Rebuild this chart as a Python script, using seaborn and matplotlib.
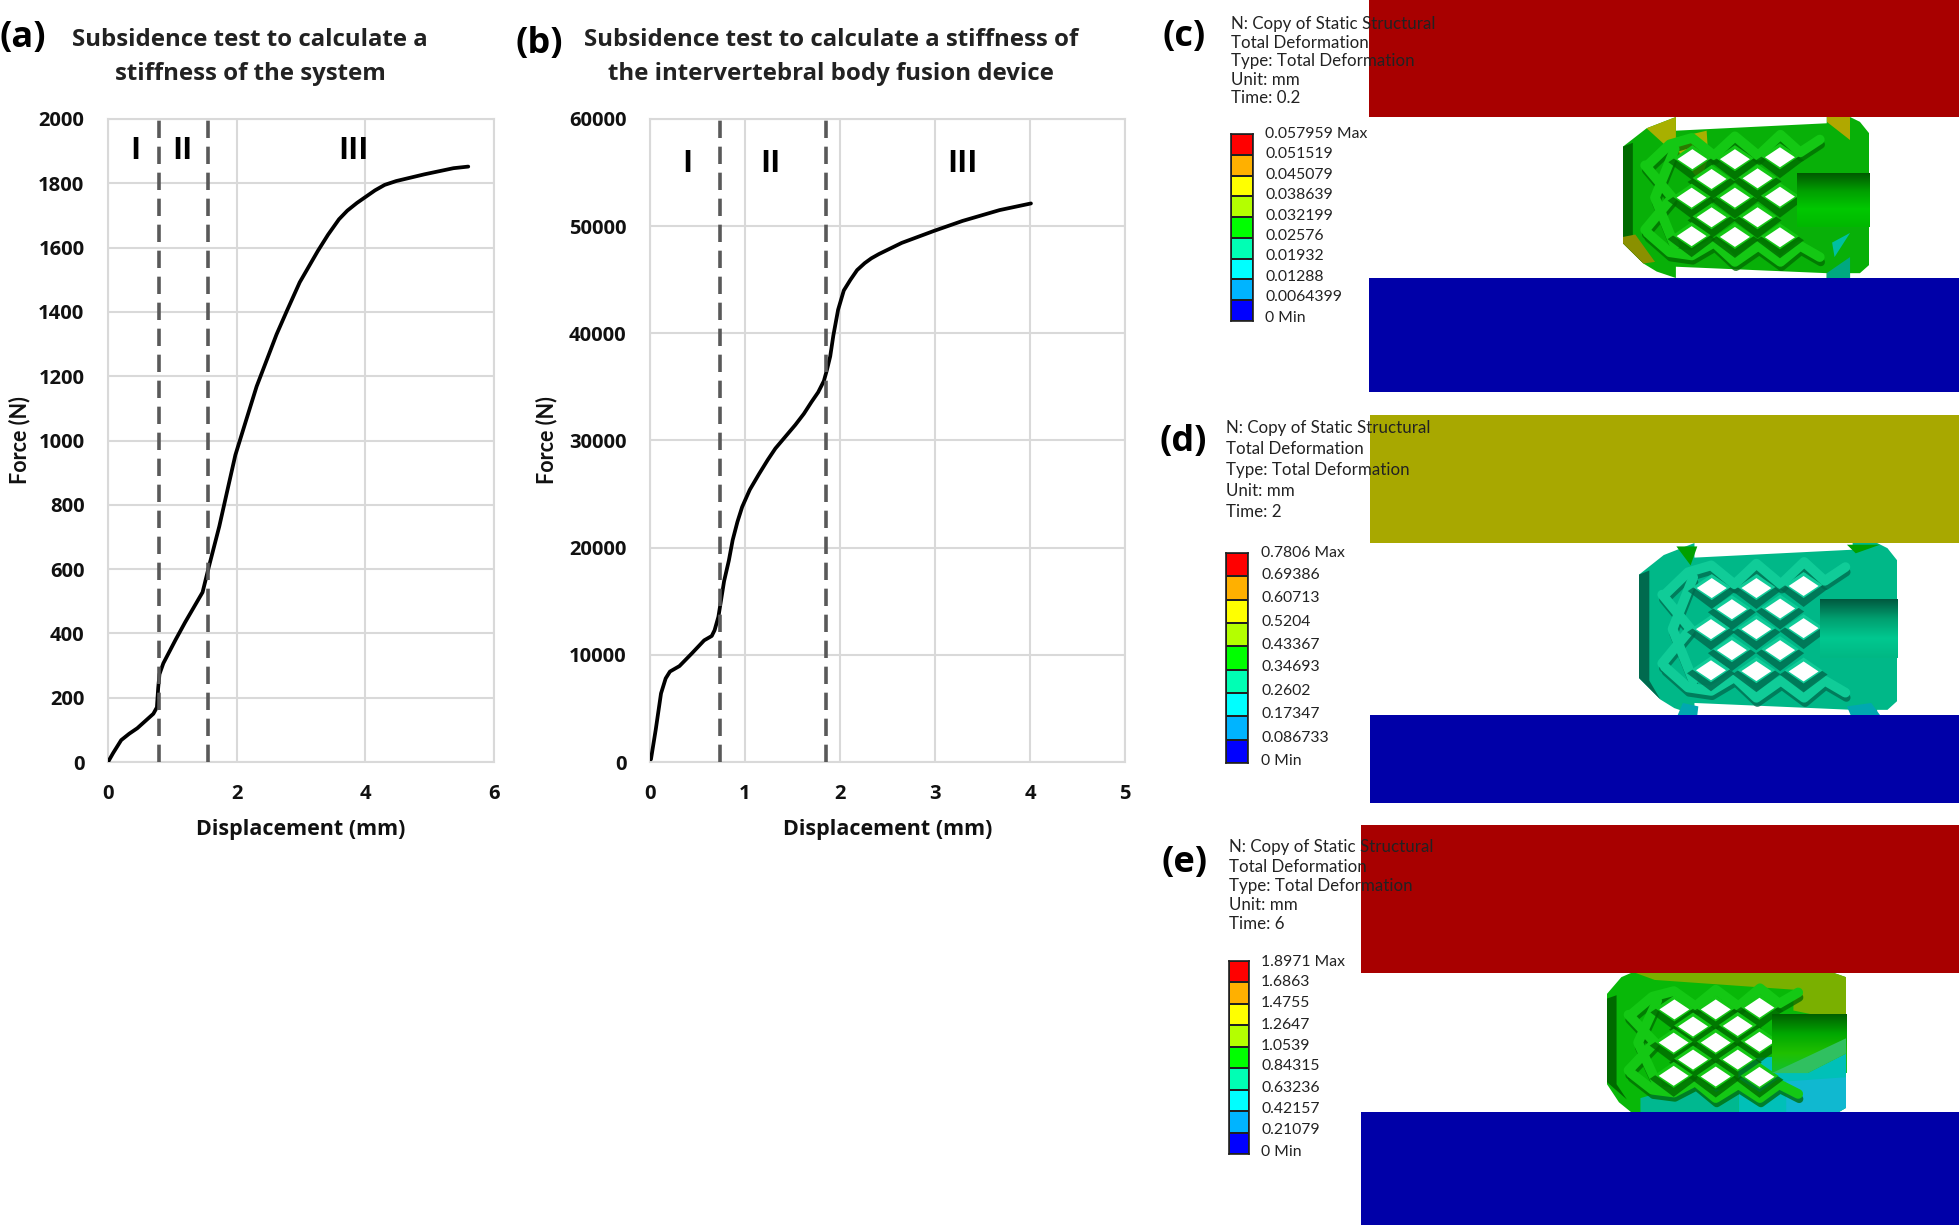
import numpy as np
import pandas as pd
import matplotlib
matplotlib.use("Agg")
import matplotlib.pyplot as plt
from matplotlib.colors import ListedColormap, LinearSegmentedColormap
from matplotlib.patches import Polygon, Rectangle
import seaborn as sns

sns.set_theme(style="whitegrid")
plt.rcParams["font.family"] = ["Open Sans", "DejaVu Sans"]

W, H = 1959, 1226

# Chart data
disp_a = [0, 0.08, 0.205, 0.33, 0.455, 0.705, 0.76, 0.78, 0.8, 0.86, 1.05, 1.2, 1.47, 1.565, 1.73, 1.85, 1.98, 2.15,
          2.31, 2.62, 2.78, 2.98, 3.26, 3.42, 3.59, 3.72, 3.87, 4.15, 4.3, 4.48, 4.92, 5.37, 5.6]
force_a = [0, 28, 68, 88, 105, 150, 170, 230, 273, 307, 380, 435, 528, 605, 733, 840, 955, 1065,
           1168, 1330, 1403, 1492, 1589, 1640, 1688, 1715, 1739, 1778, 1795, 1807, 1828, 1847, 1852]
disp_b = [0.01, 0.06, 0.116, 0.165, 0.21, 0.31, 0.44, 0.57, 0.65, 0.68, 0.72, 0.78, 0.83, 0.87, 0.92, 0.97, 1.05, 1.146,
          1.24, 1.32, 1.53, 1.62, 1.7, 1.77, 1.83, 1.86, 1.897, 1.93, 1.98, 2.04, 2.11, 2.18, 2.26, 2.33, 2.41, 2.65,
          2.99, 3.29, 3.68, 4.01]
force_b = [250, 3000, 6400, 7800, 8440, 8950, 10130, 11350, 11760, 12300, 13550, 16880, 18800, 20700, 22400, 23800,
           25400, 26850, 28200, 29260, 31460, 32500, 33600, 34500, 35550, 36500, 37850, 39800, 42200, 44000, 45000,
           45900, 46550, 47000, 47400, 48440, 49560, 50490, 51500, 52120]
bounds_a = [0.79, 1.56]
bounds_b = [0.735, 1.854]
stages = ["I", "II", "III"]
stage_x_a = [0.43, 1.15, 3.81]
stage_x_b = [0.39, 1.27, 3.29]
yticks_a = [0, 200, 400, 600, 800, 1000, 1200, 1400, 1600, 1800, 2000]
yticks_b = [0, 10000, 20000, 30000, 40000, 50000, 60000]
xticks_a = [0, 2, 4, 6]
xticks_b = [0, 1, 2, 3, 4, 5]
title_a = "Subsidence test to calculate a\nstiffness of the system"
title_b = "Subsidence test to calculate a stiffness of\nthe intervertebral body fusion device"

# Simulation legends
legend_colors = ["#FF0000", "#FFB000", "#FFFF00", "#B4FF00", "#00FF00",
                 "#00FFB4", "#00FFFF", "#00B4FF", "#0000FF"]
labels_c = ["0.057959 Max", "0.051519", "0.045079", "0.038639", "0.032199",
            "0.02576", "0.01932", "0.01288", "0.0064399", "0 Min"]
labels_d = ["0.7806 Max", "0.69386", "0.60713", "0.5204", "0.43367",
            "0.34693", "0.2602", "0.17347", "0.086733", "0 Min"]
labels_e = ["1.8971 Max", "1.6863", "1.4755", "1.2647", "1.0539",
            "0.84315", "0.63236", "0.42157", "0.21079", "0 Min"]
header = ["N: Copy of Static Structural", "Total Deformation", "Type: Total Deformation", "Unit: mm"]

# Device outline and lattice holes, as fractions of the device box
outline = [(0, .184), (.096, .07), (.215, 0), (.215, .085), (.828, .039), (.828, 0), (.923, 0),
           (.963, .03), (1, .1), (1, .92), (.963, .97), (.923, .97), (.923, 1), (.828, 1),
           (.828, .97), (.215, .93), (.215, 1), (.137, .96), (.083, .91), (0, .785)]
outline_e = [(0, .15), (.06, .03), (.1, 0), (.95, 0), (1, .03), (1, .97), (.97, 1), (.1, 1), (.05, .93), (0, .8)]
holes = [(.282, .262), (.455, .262), (.638, .25), (.36, .385), (.547, .381), (.279, .501), (.455, .501),
         (.638, .495), (.36, .623), (.547, .623), (.279, .74), (.455, .745), (.638, .747)]
zig_top = [(.1, .3), (.19, .17), (.28, .13), (.37, .24), (.455, .12), (.55, .24), (.64, .11), (.72, .22), (.8, .14)]
zig_bot = [(.1, .72), (.19, .84), (.28, .86), (.37, .78), (.455, .9), (.55, .8), (.64, .9), (.72, .8), (.8, .87)]
x_mark = [[(.09, .3), (.2, .5), (.09, .7)], [(.21, .2), (.13, .5), (.21, .8)]]

patches_c = [([(.096, .07), (.215, 0), (.215, .13), (.34, .085), (.347, .257), (.313, .4), (.245, .267), (.178, .184)], "#A8B000"),
             ([(.828, .03), (.828, 0), (.923, 0), (.923, .14)], "#B0A800"),
             ([(0, .745), (.05, .73), (.13, .9), (.083, .91), (0, .785)], "#8A9000"),
             ([(.828, .97), (.923, .87), (.923, 1), (.828, 1)], "#00A880"),
             ([(.85, .78), (.923, .72), (.86, .87)], "#00C0A0")]
patches_d = [([(.145, .02), (.226, .02), (.2, .13)], "#00A000"),
             ([(.806, .01), (.934, .01), (.84, .06)], "#00A000"),
             ([(.17, .93), (.23, .95), (.226, 1), (.15, 1)], "#00A8B0"),
             ([(.806, .95), (.9, .93), (.934, 1), (.82, 1)], "#00A8B0")]
patches_e = [([(.12, 0), (.95, 0), (1, .03), (1, .3), (.95, .33), (.78, .27), (.78, .12), (.2, .05)], "#7AB000"),
             ([(.14, 1), (.14, .9), (.3, .82), (.55, .85), (.55, 1)], "#00B890"),
             ([(.55, 1), (.55, .62), (.72, .6), (1, .6), (1, .97), (.97, 1)], "#00C0B8"),
             ([(.75, 1), (.75, .78), (1, .75), (1, .97), (.97, 1)], "#10B8D0")]
over_c = []
over_d = []
over_e = [([(.84, .72), (1, .58), (1, .72)], "#00C0B8"),
          ([(.69, .72), (.84, .6), (1, .47), (1, .58), (.84, .72)], "#30C060")]

fig = plt.figure(figsize=(W / 100, H / 100), dpi=100)


def px_axes(x0, y0, x1, y1):
    return fig.add_axes([x0 / W, 1 - y1 / H, (x1 - x0) / W, (y1 - y0) / H])


bg = fig.add_axes([0, 0, 1, 1])
bg.set_xlim(0, W)
bg.set_ylim(H, 0)
bg.axis("off")


def draw_chart(box, xs, ys, bounds, stage_x, stage_y, xticks, yticks, ylim, ylab_x):
    ax = px_axes(*box)
    df = pd.DataFrame({"disp": xs, "force": ys})
    sns.lineplot(data=df, x="disp", y="force", color="black", linewidth=2.7,
                 sort=False, estimator=None, ax=ax, zorder=3)
    for b in bounds:
        ax.axvline(b, color="#595959", linewidth=2.6, dashes=(4.8, 2.4), zorder=4)
    for name, sx in zip(stages, stage_x):
        ax.text(sx, stage_y, name, ha="center", va="center", fontsize=22, fontweight="bold", color="black")
    ax.set_xlim(xticks[0], xticks[-1])
    ax.set_ylim(0, ylim)
    ax.set_xticks(xticks)
    ax.set_yticks(yticks)
    ax.grid(True, color="#D9D9D9", linewidth=1.5)
    for s in ax.spines.values():
        s.set_color("#D9D9D9")
        s.set_linewidth(1.5)
    ax.tick_params(axis="y", length=0, labelsize=14.5, labelcolor="#111111", pad=17)
    ax.tick_params(axis="x", length=0, labelsize=14.5, labelcolor="#111111", pad=16)
    for t in ax.get_xticklabels() + ax.get_yticklabels():
        t.set_fontweight("bold")
    ax.set_xlabel("Displacement (mm)", fontsize=15.5, fontweight="bold", color="#111111")
    ax.set_ylabel("Force (N)", fontsize=15.5, fontweight="bold", color="#111111", family="Lato")
    ax.xaxis.set_label_coords(0.5, -0.088)
    ax.yaxis.set_label_coords(ylab_x, 0.5)
    ax.patch.set_alpha(0)
    return ax


def draw_legend(box, labels, label_x, label_ys):
    ax = px_axes(*box)
    vals = np.arange(len(legend_colors)).reshape(-1, 1)
    sns.heatmap(vals, cmap=ListedColormap(legend_colors), cbar=False, linewidths=1.2,
                linecolor="#202020", xticklabels=False, yticklabels=False, ax=ax)
    for s in ax.spines.values():
        s.set_visible(True)
        s.set_color("#202020")
        s.set_linewidth(1.2)
    for lab, ly in zip(labels, label_ys):
        bg.text(label_x, ly, lab, fontsize=11.3, family="Lato", ha="left", va="center", color="#222222")


def draw_header(x, ys, lines):
    for line, y in zip(lines, ys):
        bg.text(x, y, line, fontsize=12.2, family="Lato", ha="left", va="center", color="#222222", zorder=8)


def draw_device(box, shape, main, dark, light, extra, bore, bore_cols, over):
    x0, y0, x1, y1 = box
    w, h = x1 - x0, y1 - y0

    def to_px(pts):
        return [(x0 + u * w, y0 + v * h) for u, v in pts]

    bg.add_patch(Polygon(to_px(shape), closed=True, fc=main, ec="none", zorder=2))
    bg.add_patch(Polygon(to_px([(0, .184), (.04, .16), (.04, .8), (.083, .91), (0, .785)]),
                         closed=True, fc=dark, ec="none", zorder=2.1))
    for pts, col in extra:
        bg.add_patch(Polygon(to_px(pts), closed=True, fc=col, ec="none", zorder=2.2))
    for line in [zig_top, zig_bot] + x_mark:
        p = to_px(line)
        bg.plot(*zip(*[(a + 1, b + 5) for a, b in p]), color=dark, lw=6, zorder=2.3, alpha=0.75)
        bg.plot(*zip(*p), color=light, lw=7, zorder=2.4)
    for u, v in holes:
        cx, cy = x0 + u * w, y0 + v * h
        bg.add_patch(Polygon([(cx - 24, cy + 3), (cx, cy - 13), (cx + 24, cy + 3), (cx, cy + 21)],
                             closed=True, fc=dark, ec="none", zorder=2.5, alpha=0.8))
    for u, v in holes:
        cx, cy = x0 + u * w, y0 + v * h
        bg.add_patch(Polygon([(cx - 19, cy - 1), (cx, cy - 14), (cx + 19, cy - 1), (cx, cy + 12)],
                             closed=True, fc=light, ec="none", zorder=2.6))
        bg.add_patch(Polygon([(cx - 15, cy), (cx, cy - 10), (cx + 15, cy), (cx, cy + 10)],
                             closed=True, fc="white", ec="none", zorder=2.7))
    cmap = LinearSegmentedColormap.from_list("bore", bore_cols)
    bx0, by0, bx1, by1 = x0 + bore[0] * w, y0 + bore[1] * h, x0 + bore[2] * w, y0 + bore[3] * h
    bg.imshow(np.linspace(0, 1, 64).reshape(-1, 1), cmap=cmap, aspect="auto",
              extent=(bx0, bx1, by1, by0), zorder=3)
    for pts, col in over:
        bg.add_patch(Polygon(to_px(pts), closed=True, fc=col, ec="none", zorder=3.1))
    bg.set_xlim(0, W)
    bg.set_ylim(H, 0)


def draw_plates(x0, top, top_col, bot, bot_col):
    bg.add_patch(Rectangle((x0, top[0]), W - x0, top[1] - top[0], fc=top_col, ec="none", zorder=1))
    bg.add_patch(Rectangle((x0, bot[0]), W - x0, bot[1] - bot[0], fc=bot_col, ec="none", zorder=1))


# Panels a and b
draw_chart((108, 119, 494, 762), disp_a, force_a, bounds_a, stage_x_a, 1900, xticks_a, yticks_a, 2000, -0.2)
draw_chart((650, 119, 1125, 762), disp_b, force_b, bounds_b, stage_x_b, 55800, xticks_b, yticks_b, 60000, -0.194)
bg.text(250, 57, title_a, fontsize=17.3, fontweight="bold", ha="center", va="center", linespacing=1.55, color="#222222")
bg.text(831, 57, title_b, fontsize=17.3, fontweight="bold", ha="center", va="center", linespacing=1.55, color="#222222")

for lab, x, y in [("(a)", 23, 38), ("(b)", 539, 44), ("(c)", 1184, 37), ("(d)", 1183, 442), ("(e)", 1185, 863)]:
    bg.text(x, y, lab, fontsize=26, fontweight="bold", ha="center", va="center", color="black")

# Panel c
draw_plates(1369, (0, 117), "#A80000", (278, 392), "#0000A8")
draw_device((1623, 117, 1869, 278), outline, "#08B008", "#006A00", "#14C814", patches_c, (.707, .35, 1, .683),
            ["#005A00", "#00A000", "#00C800", "#00B800"], over_c)
draw_legend((1231, 134, 1253, 321), labels_c, 1265, [134, 154, 175, 195, 216, 236, 256, 277, 297, 318])
draw_header(1231, [24, 43, 61, 80, 98], header + ["Time: 0.2"])

# Panel d
draw_plates(1370, (415, 543), "#A8A800", (715, 803), "#0000A8")
draw_device((1639, 543, 1897, 715), outline, "#00B888", "#006A4E", "#10CC98", patches_d, (.7, .33, 1, .67),
            ["#005A40", "#00A070", "#00C890", "#00B884"], over_d)
draw_legend((1226, 553, 1248, 763), labels_d, 1261, [553, 575, 598, 622, 645, 667, 691, 714, 738, 761])
draw_header(1226, [428, 449, 470, 491, 512], header + ["Time: 2"])

# Panel e
draw_plates(1361, (825, 973), "#A80000", (1112, 1225), "#0000A8")
draw_device((1607, 973, 1846, 1112), outline_e, "#08B808", "#006A00", "#14C814", patches_e, (.69, .3, 1, .72),
            ["#006000", "#00A800", "#20C000", "#10C030"], over_e)
draw_legend((1229, 961, 1249, 1154), labels_e, 1261, [962, 982, 1003, 1025, 1046, 1066, 1088, 1109, 1130, 1152])
draw_header(1229, [847, 867, 886, 905, 924], header + ["Time: 6"])

fig.savefig("out.png", dpi=100)
